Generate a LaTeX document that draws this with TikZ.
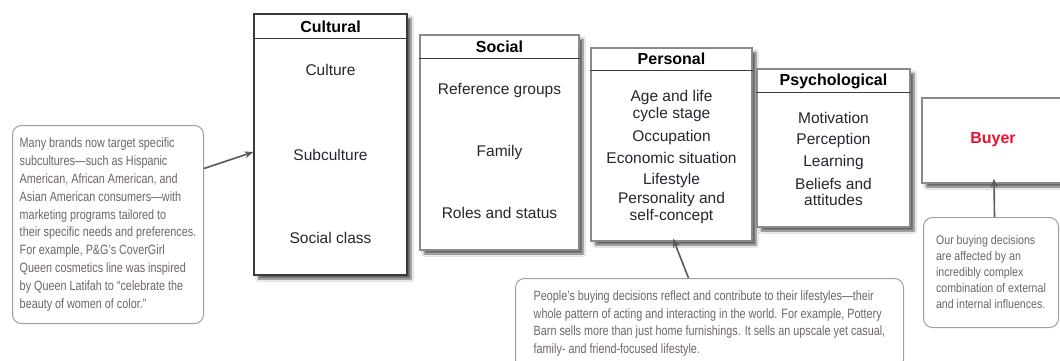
\documentclass[tikz,border=0pt]{standalone}
\usepackage{fontspec}
\setmainfont{Liberation Sans}
\newfontfamily\narrowfont[FakeStretch=0.8]{Liberation Sans}
\newfontfamily\smallnarrowfont[FakeStretch=0.85]{Liberation Sans}
\usepackage{xcolor}
\usetikzlibrary{arrows.meta, shadows.blur}

\definecolor{boxline}{HTML}{8A8A8A}
\definecolor{darkline}{HTML}{3A3A3A}
\definecolor{itemtext}{HTML}{26262E}
\definecolor{notetext}{HTML}{6E6666}
\definecolor{noteline}{HTML}{A0A0A0}
\definecolor{buyerred}{HTML}{E8112D}
\definecolor{arrowgray}{HTML}{5A5A5A}

\begin{document}
\begin{tikzpicture}[x=1pt, y=-1pt,
    factor/.style={draw=boxline, line width=1.2pt, fill=white,
        blur shadow={shadow xshift=4pt, shadow yshift=-4pt, shadow blur steps=6, shadow opacity=60}},
    head/.style={font=\fontsize{16}{18}\selectfont\bfseries, inner sep=0pt},
    headrule/.style={draw=darkline, line width=1.2pt},
    item/.style={font=\fontsize{15.5}{16.5}\selectfont, text=itemtext, align=center, inner sep=0pt},
    note/.style={draw=noteline, line width=1pt, rounded corners=9pt, fill=white, text=notetext,
        align=left, anchor=north west, inner sep=0pt, font=\narrowfont\fontsize{13.5}{17.9}\selectfont},
    link/.style={draw=arrowgray, line width=1.6pt, -{Stealth[length=9pt, width=7pt]}}
]
    \fill[white] (0,0) rectangle (1060,360);
    \useasboundingbox (0,0) rectangle (1060,360);

    % the four groups of factors
    \node[factor, draw=darkline, minimum width=153pt, minimum height=261pt] (cultural) at (330.5,144.5) {};
    \node[factor, minimum width=159pt, minimum height=215pt] (social) at (499.5,142.5) {};
    \node[factor, minimum width=161pt, minimum height=193pt] (personal) at (671.5,144.5) {};
    \node[factor, minimum width=153pt, minimum height=158pt] (psych) at (833.5,148) {};
    \node[factor, minimum width=150pt, minimum height=85pt] (buyer) at (997,140.5) {};

    \draw[headrule] ([yshift=-25pt]cultural.north west) -- ([yshift=-25pt]cultural.north east);
    \draw[headrule] ([yshift=-24pt]social.north west) -- ([yshift=-24pt]social.north east);
    \draw[headrule] ([yshift=-23pt]personal.north west) -- ([yshift=-23pt]personal.north east);
    \draw[headrule] ([yshift=-24pt]psych.north west) -- ([yshift=-24pt]psych.north east);

    \node[head] (culturalhead) at (330.5,27) {Cultural};
    \node[head] (socialhead) at (499.5,47) {Social};
    \node[head] (personalhead) at (671.5,59) {Personal};
    \node[head] (psychhead) at (833.5,81) {Psychological};
    \node[head, text=buyerred] (buyerhead) at (993,140) {Buyer};

    \node[item] (culture) at (330.5,70) {Culture};
    \node[item] (subculture) at (330.5,155) {Subculture};
    \node[item] (socialclass) at (330.5,238) {Social class};

    \node[item] (refgroups) at (499.5,90) {Reference groups};
    \node[item] (family) at (499.5,152) {Family};
    \node[item] (roles) at (499.5,213) {Roles and status};

    \node[item] (age) at (671.5,106) {Age and life\\cycle stage};
    \node[item] (occupation) at (671.5,137) {Occupation};
    \node[item] (economic) at (671.5,158) {Economic situation};
    \node[item] (lifestyle) at (671.5,180) {Lifestyle};
    \node[item] (personality) at (671.5,208) {Personality and\\self-concept};

    \node[item] (motivation) at (833.5,118) {Motivation};
    \node[item] (perception) at (833.5,140) {Perception};
    \node[item] (learning) at (833.5,162) {Learning};
    \node[item] (beliefs) at (833.5,192) {Beliefs and\\attitudes};

    % side notes
    \node[note, minimum width=191pt, minimum height=198pt] (culturenote) at (12,125)
        {Many brands now target specific\\ subcultures—such as Hispanic\\ American, African American, and\\
         Asian American consumers—with\\ marketing programs tailored to\\ their specific needs and preferences.\\
         For example, P\&G’s CoverGirl\\ Queen cosmetics line was inspired\\ by Queen Latifah to “celebrate the\\
         beauty of women of color.”};
    \node[note, minimum width=388pt, minimum height=90pt] (lifenote) at (515,278)
        {People’s buying decisions reflect and contribute to their lifestyles—their\\ whole pattern of acting
         and interacting in the world. For example, Pottery\\ Barn sells more than just home furnishings.
         It sells an upscale yet casual,\\ family- and friend-focused lifestyle.};
    \node[note, minimum width=135pt, minimum height=110pt,
          font=\smallnarrowfont\fontsize{12.5}{16}\selectfont] (buyernote) at (923,217)
        {Our buying decisions\\ are affected by an\\ incredibly complex\\ combination of external\\ and internal influences.};

    \draw[link] ([yshift=56pt]culturenote.east) -- ([yshift=-7.5pt]cultural.west);
    \draw[link] ([xshift=-21pt]lifenote.north) -- ([xshift=1.5pt, yshift=3pt]personal.south);
    \draw[link] ([xshift=3.5pt]buyernote.north) -- ([xshift=-3pt, yshift=5pt]buyer.south);
\end{tikzpicture}
\end{document}
